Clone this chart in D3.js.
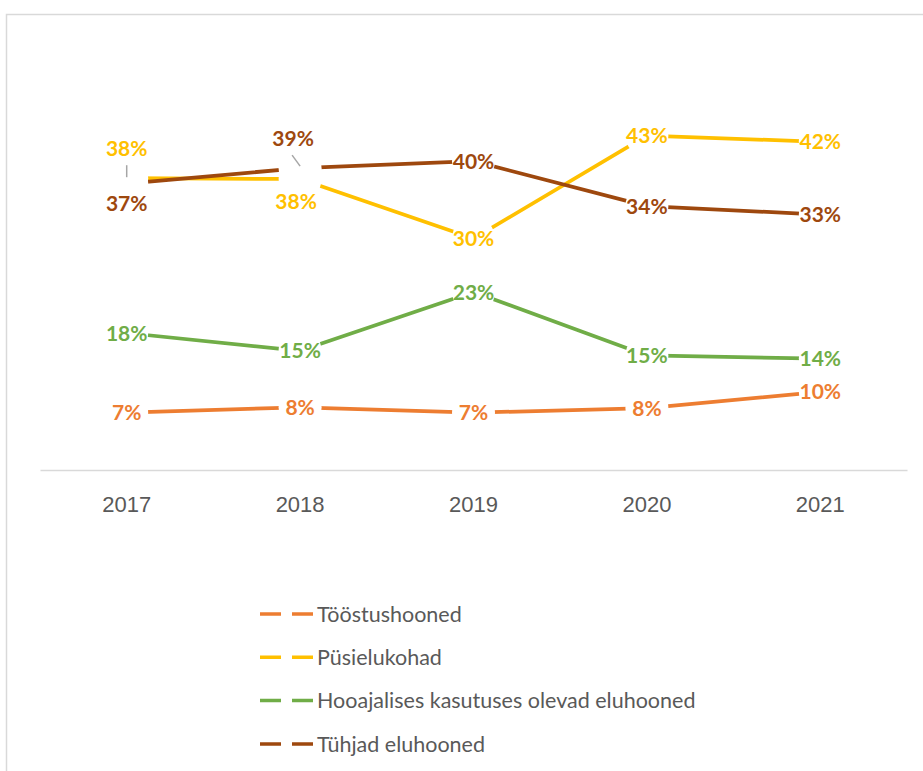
<!DOCTYPE html>
<html>
<head>
<meta charset="utf-8">
<script src="https://cdn.jsdelivr.net/npm/d3@7"></script>
<style>
  body { margin: 0; background: #fff; }
  svg { display: block; font-family: Lato, "Open Sans", sans-serif; }
  .x-axis .domain { stroke: #d9d9d9; stroke-width: 1.5; }
  .x-axis text { fill: #595959; font-size: 22px; }
  .point-label { font-size: 21px; font-weight: bold; }
  .legend text { fill: #595959; font-size: 21.5px; }
</style>
</head>
<body>
<svg id="chart" width="923" height="771"></svg>
<script>
// data
const years = ["2017", "2018", "2019", "2020", "2021"];
const seriesNames = [
  "Tööstushooned",
  "Püsielukohad",
  "Hooajalises kasutuses olevad eluhooned",
  "Tühjad eluhooned",
];
const toostushooned = [0.074, 0.081, 0.074, 0.08, 0.101];
const pysielukohad = [0.377, 0.376, 0.299, 0.432, 0.424];
const hooajalised = [0.177, 0.154, 0.23, 0.148, 0.144];
const tuhjad = [0.37, 0.39, 0.399, 0.341, 0.33];
const seriesValues = [toostushooned, pysielukohad, hooajalised, tuhjad];
const colors = ["#ED7D31", "#FFC000", "#70AD47", "#9E480E"];

// labels that were dragged off their point (series index, year index, dx, dy)
const movedLabels = [
  { s: 1, i: 0, dx: 0, dy: -30 },
  { s: 3, i: 0, dx: 0, dy: 20 },
  { s: 3, i: 1, dx: -7, dy: -30 },
  { s: 1, i: 1, dx: -4, dy: 22 },
];
// leader lines for the labels that sit above the point
const leaders = [
  { s: 1, i: 0, x1: 0, y1: -13, x2: 0, y2: -1 },
  { s: 3, i: 1, x1: -8, y1: -13, x2: 0, y2: -2 },
];

const svg = d3.select("#chart");

// chart frame
svg
  .append("rect")
  .attr("x", 6.5)
  .attr("y", 14.5)
  .attr("width", 1000)
  .attr("height", 1000)
  .attr("fill", "#fff")
  .attr("stroke", "#d9d9d9")
  .attr("stroke-width", 1.5);

const xScale = d3.scaleBand().domain(years).range([40, 907]);
const yScale = d3.scaleLinear().domain([0, 0.5]).range([470, 83]);
const xPos = (i) => xScale(years[i]) + xScale.bandwidth() / 2;

const xAxis = d3.axisBottom(xScale).tickSize(0).tickPadding(26);
svg
  .append("g")
  .attr("class", "x-axis")
  .attr("transform", "translate(0,470)")
  .call(xAxis);

const series = seriesNames.map((name, s) => ({
  name,
  color: colors[s],
  values: seriesValues[s].map((v, i) => ({ year: years[i], value: v, i })),
}));

const lineGenerator = d3
  .line()
  .x((d) => xPos(d.i))
  .y((d) => yScale(d.value));

svg
  .selectAll(".line-path")
  .data(series)
  .enter()
  .append("path")
  .attr("class", "line-path")
  .attr("d", (d) => lineGenerator(d.values))
  .attr("fill", "none")
  .attr("stroke", (d) => d.color)
  .attr("stroke-width", 3.75)
  .attr("stroke-linejoin", "round");

// white markers hide the line under each point
const allPoints = series.flatMap((d, s) =>
  d.values.map((p) => ({ ...p, s, color: d.color }))
);
svg
  .selectAll(".marker")
  .data(allPoints)
  .enter()
  .append("circle")
  .attr("class", "marker")
  .attr("cx", (d) => xPos(d.i))
  .attr("cy", (d) => yScale(d.value))
  .attr("r", 21.5)
  .attr("fill", "#fff");

svg
  .selectAll(".leader")
  .data(leaders)
  .enter()
  .append("line")
  .attr("class", "leader")
  .attr("x1", (d) => xPos(d.i) + d.x1)
  .attr("x2", (d) => xPos(d.i) + d.x2)
  .attr("y1", (d) => yScale(seriesValues[d.s][d.i]) + d.y1)
  .attr("y2", (d) => yScale(seriesValues[d.s][d.i]) + d.y2)
  .attr("stroke", "#a6a6a6")
  .attr("stroke-width", 1.5);

const fmt = d3.format(".0%");
const shift = (d) =>
  movedLabels.find((m) => m.s === d.s && m.i === d.i) || { dx: 0, dy: 0 };

svg
  .selectAll(".point-label")
  .data(allPoints)
  .enter()
  .append("text")
  .attr("class", "point-label")
  .attr("x", (d) => xPos(d.i) + shift(d).dx)
  .attr("y", (d) => yScale(d.value) + shift(d).dy)
  .attr("dy", "0.36em")
  .attr("text-anchor", "middle")
  .attr("fill", (d) => d.color)
  .text((d) => fmt(d.value));

// legend
const legend = svg
  .append("g")
  .attr("class", "legend")
  .attr("transform", "translate(260,614)");

const items = legend
  .selectAll(".item")
  .data(series)
  .enter()
  .append("g")
  .attr("class", "item")
  .attr("transform", (d, s) => `translate(0,${s * 43.3})`);

items
  .append("line")
  .attr("x1", 0)
  .attr("x2", 53)
  .attr("stroke", (d) => d.color)
  .attr("stroke-width", 3.5)
  .attr("stroke-dasharray", "21 11");

items
  .append("text")
  .attr("x", 57)
  .attr("dy", "0.36em")
  .text((d) => d.name);
</script>
</body>
</html>
